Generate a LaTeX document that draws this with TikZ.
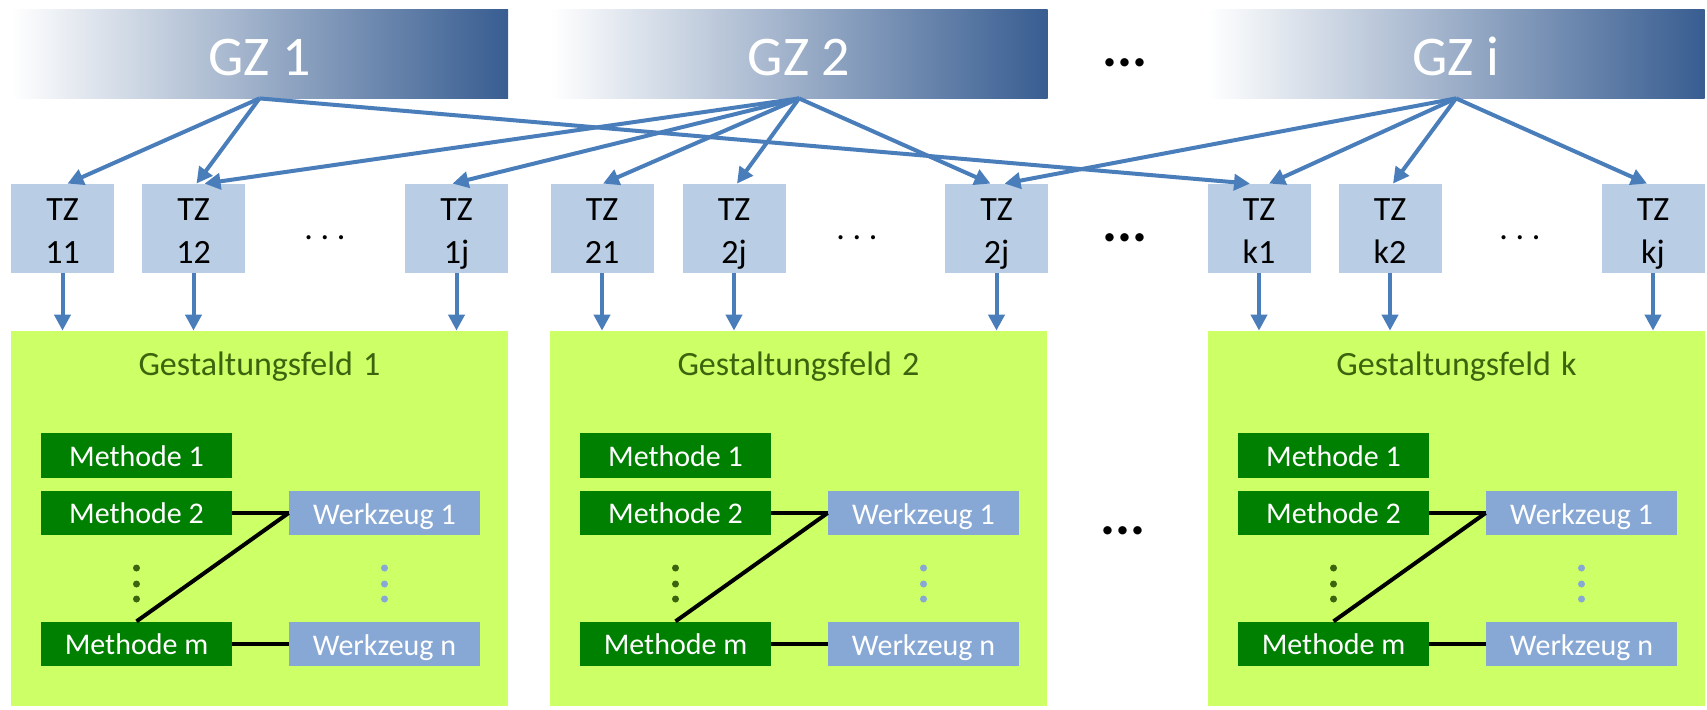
\documentclass[tikz,border=0pt]{standalone}
\usepackage{fontspec}
\setmainfont{Carlito}
\usetikzlibrary{arrows.meta,calc}
\definecolor{gzdark}{RGB}{56,93,145}
\definecolor{tzfill}{RGB}{185,205,229}
\definecolor{gffill}{RGB}{205,255,102}
\definecolor{gftext}{RGB}{58,100,14}
\definecolor{mfill}{RGB}{0,128,0}
\definecolor{wfill}{RGB}{135,168,212}
\definecolor{arrowblue}{RGB}{74,126,187}

\newcommand\mktz[3]{%
  \node[tzbox] (#1) at (#2,228.5) {};
  \node[tztext] (#1a) at (#2,220) {TZ};
  \node[tztext] (#1b) at (#2,263) {#3};
}
\newcommand\mkgf[3]{%
  \node[gfbox] (#1) at ({#2+248.5},518.5) {};
  \node[gftitle] (#1t) at ({#2+248.5},375) {#3};
  \node[mbox] (#1m1) at ({#2+125.5},455.5) {Methode 1};
  \node[mbox] (#1m2) at ({#2+125.5},513) {Methode 2};
  \node[mbox] (#1mm) at ({#2+125.5},644) {Methode m};
  \node[wbox] (#1w1) at ({#2+373.5},513) {Werkzeug 1};
  \node[wbox] (#1wn) at ({#2+373.5},644) {Werkzeug n};
  \foreach \yy in {568,584,599} {
    \fill[gftext] ({#2+125.5},\yy) circle[radius=1.75pt];
    \fill[wfill] ({#2+373.5},\yy) circle[radius=1.75pt];
  }
  \draw[blk] (#1m2.east) -- (#1w1.west);
  \draw[blk] (#1w1.west) -- (#1mm.north);
  \draw[blk] (#1mm.east) -- (#1wn.west);
}

\begin{document}
\begin{tikzpicture}[x=0.5pt,y=-0.5pt,
  gzbar/.style={minimum width=248.5pt, minimum height=44.5pt, inner sep=0pt,
    left color=white, right color=gzdark, text=white,
    font=\fontsize{28}{34}\selectfont, text height=21.5pt, text depth=0pt},
  tzbox/.style={fill=tzfill, minimum width=51.5pt, minimum height=44.5pt, inner sep=0pt},
  tztext/.style={anchor=base, inner sep=0pt, font=\fontsize{17}{20}\selectfont},
  gfbox/.style={fill=gffill, minimum width=248.5pt, minimum height=187.5pt, inner sep=0pt},
  gftitle/.style={anchor=base, inner sep=0pt, text=gftext, font=\fontsize{17}{20}\selectfont},
  mbox/.style={fill=mfill, text=white, minimum width=95.5pt, minimum height=22.25pt, inner sep=0pt,
    font=\fontsize{15}{18}\selectfont, text height=10.5pt, text depth=0pt},
  wbox/.style={fill=wfill, text=white, minimum width=95.5pt, minimum height=22.25pt, inner sep=0pt,
    font=\fontsize{15}{18}\selectfont, text height=11pt, text depth=0pt},
  blk/.style={draw=black, line width=2pt},
  conn/.style={draw=arrowblue, line width=2pt, -{Triangle[length=8pt,width=8pt]}},
  sdots/.style={anchor=base, inner sep=0pt, font=\fontsize{17}{20}\selectfont\frenchspacing},
  bdots/.style={anchor=base, inner sep=0pt, font=\fontsize{28}{34}\selectfont\bfseries}
]
\fill[white] (0,0) rectangle (1707,709);
\useasboundingbox (0,0) rectangle (1707,709);

% goal bars
\node[gzbar] (gz1) at (259.5,53.5) {GZ 1};
\node[gzbar] (gz2) at (799,53.5) {GZ 2};
\node[gzbar] (gzi) at (1456,53.5) {GZ i};
\node[bdots] (dtop) at (1125,66) {...};

% TZ boxes
\mktz{tz11}{62.5}{11}
\mktz{tz12}{193.5}{12}
\mktz{tz1j}{456.5}{1j}
\mktz{tz21}{602}{21}
\mktz{tz2a}{734}{2j}
\mktz{tz2b}{996.5}{2j}
\mktz{tzk1}{1259}{k1}
\mktz{tzk2}{1390}{k2}
\mktz{tzkj}{1653}{kj}
\node[sdots] (d1) at (325,239.5) {. . .};
\node[sdots] (d2) at (857,239.5) {. . .};
\node[bdots] (dmid) at (1125,241) {...};
\node[sdots] (d3) at (1520,239.5) {. . .};

% design fields
\mkgf{gf1}{11}{Gestaltungsfeld\hspace{0.3em}1}
\mkgf{gf2}{550}{Gestaltungsfeld\hspace{0.3em}2}
\mkgf{gfk}{1208}{Gestaltungsfeld\hspace{0.3em}k}
\node[bdots] (dgf) at (1123,534) {...};

% goal -> sub-goal arrows
\draw[conn] (gz1.south) -- ($(tz11.north)+(5,0)$);
\draw[conn] (gz1.south) -- ($(tz12.north)+(3,0)$);
\draw[conn] (gz1.south) -- ($(tzk1.north)+(-9,0)$);
\draw[conn] (gz2.south) -- ($(tz12.north)+(11,0)$);
\draw[conn] (gz2.south) -- ($(tz1j.north)+(-4,0)$);
\draw[conn] (gz2.south) -- ($(tz21.north)+(1,0)$);
\draw[conn] (gz2.south) -- ($(tz2a.north)+(3,0)$);
\draw[conn] (gz2.south) -- ($(tz2b.north)+(-6,0)$);
\draw[conn] (gzi.south) -- ($(tz2b.north)+(8,0)$);
\draw[conn] (gzi.south) -- ($(tzk1.north)+(10,0)$);
\draw[conn] (gzi.south) -- ($(tzk2.north)+(3,0)$);
\draw[conn] (gzi.south) -- ($(tzkj.north)+(-6,0)$);

% sub-goal -> field arrows
\draw[conn] (tz11.south) -- (tz11.south |- gf1.north);
\draw[conn] (tz12.south) -- (tz12.south |- gf1.north);
\draw[conn] (tz1j.south) -- (tz1j.south |- gf1.north);
\draw[conn] (tz21.south) -- (tz21.south |- gf2.north);
\draw[conn] (tz2a.south) -- (tz2a.south |- gf2.north);
\draw[conn] (tz2b.south) -- (tz2b.south |- gf2.north);
\draw[conn] (tzk1.south) -- (tzk1.south |- gfk.north);
\draw[conn] (tzk2.south) -- (tzk2.south |- gfk.north);
\draw[conn] (tzkj.south) -- (tzkj.south |- gfk.north);
\end{tikzpicture}
\end{document}
